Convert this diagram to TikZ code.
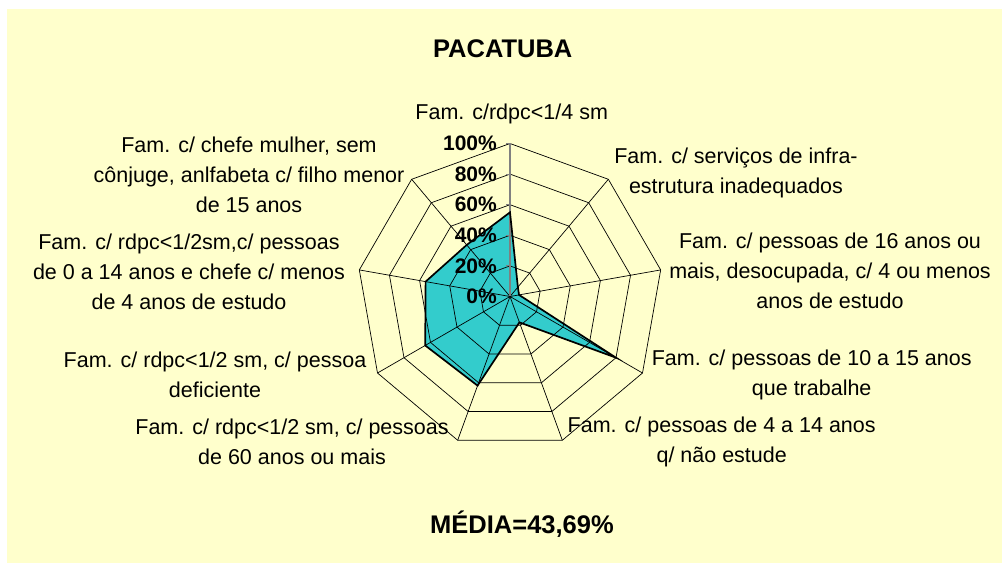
\documentclass[tikz,border=0pt]{standalone}
\usepackage{fontspec}
\setmainfont{Liberation Sans}
\def\ringstep{30.6}
\def\seriespath{(p1) -- (p2) -- (p3) -- (p4) -- (p5) -- (p6) -- (p7) -- (p8) -- (p9) -- cycle}
\definecolor{chart area}{HTML}{FFFFCC}
\definecolor{series area}{HTML}{33CCCC}
\colorlet{value axis}{black!50}
\tikzset{grid line/.style={draw=black, line width=0.7pt},
    series outline/.style={draw=black, line width=1.7pt, line join=miter},
    axis label/.style={font=\fontsize{21.5}{30}\selectfont, align=center, inner sep=0pt},
    pct label/.style={font=\bfseries\fontsize{21}{21}\selectfont, anchor=east, inner sep=0pt},
    title label/.style={font=\bfseries\fontsize{25.5}{28}\selectfont, inner sep=0pt}}

\begin{document}
\begin{tikzpicture}[x=1pt,y=1pt]
            \useasboundingbox (0,0) rectangle (1002,563);
            \fill[chart area] (7,0) rectangle (1002,554);
            \begin{scope}[shift={(510,266.5)}]
                \foreach \v [count=\i] in {55,8,6,80,18,62,64,56,44}
                    \coordinate (p\i) at ({130-40*\i}:{\v*1.53});
                \fill[series area] \seriespath;
                \foreach \r in {1,...,5}
                    \draw[grid line] (90:\r*\ringstep)
                        \foreach \k in {1,...,8} { -- ({90-40*\k}:\r*\ringstep) } -- cycle;
                \foreach \k in {1,...,8}
                    \draw[grid line] (0,0) -- ({90-40*\k}:5*\ringstep);
                \draw[value axis, line width=1.3pt] (0,0) -- (90:5*\ringstep);
                \foreach \r in {1,...,5}
                    \draw[value axis, line width=1pt] (-4,\r*\ringstep) -- (0,\r*\ringstep);
                \draw[series outline] \seriespath;
                \foreach \k/\p in {0/0,1/20,2/40,3/60,4/80,5/100}
                    \node[pct label] (pct\p) at (-13,\k*\ringstep) {\p\%};
            \end{scope}
            \node[title label] (title) at (502.7,514) {PACATUBA};
            \node[title label] (media) at (522,39) {MÉDIA=43,69\%};
            \node[axis label] (rdpc quarter) at (511.7,449) {Fam. c/rdpc<1/4 sm};
            \node[axis label] (infra) at (736,390) {Fam. c/ serviços de infra-\\estrutura inadequados};
            \node[axis label] (desocupada) at (830,292) {Fam. c/ pessoas de 16 anos ou\\mais, desocupada, c/ 4 ou menos\\anos de estudo};
            \node[axis label] (trabalhe) at (811.7,188) {Fam. c/ pessoas de 10 a 15 anos\\que trabalhe};
            \node[axis label] (estude) at (721.7,121) {Fam. c/ pessoas de 4 a 14 anos\\q/ não estude};
            \node[axis label] (idosos) at (292,121) {Fam. c/ rdpc<1/2 sm, c/ pessoas\\de 60 anos ou mais};
            \node[axis label] (deficiente) at (215,188) {Fam. c/ rdpc<1/2 sm, c/ pessoa\\deficiente};
            \node[axis label] (criancas) at (189,291) {Fam. c/ rdpc<1/2sm,c/ pessoas\\de 0 a 14 anos e chefe c/ menos\\de 4 anos de estudo};
            \node[axis label] (chefe mulher) at (249,388) {Fam. c/ chefe mulher, sem\\cônjuge, anlfabeta c/ filho menor\\de 15 anos};
        \end{tikzpicture}
\end{document}
